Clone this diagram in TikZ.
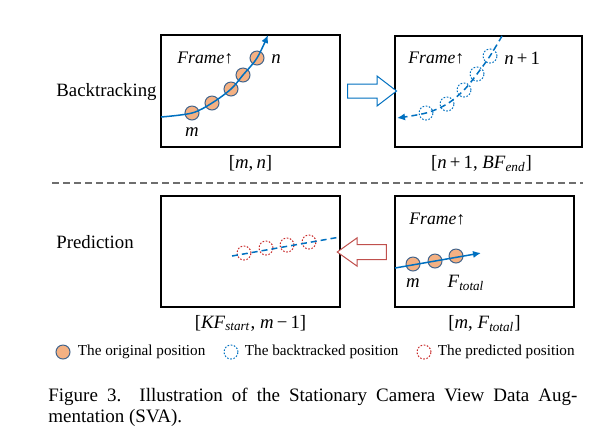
\documentclass[tikz,border=0pt]{standalone}
\usepackage{fontspec}
\setmainfont{Liberation Serif}
\usepackage{xcolor}
\usepackage{tikz}
\usetikzlibrary{positioning,shapes.arrows,arrows.meta}
\definecolor{TrackBlue}{RGB}{0, 112, 192}
\definecolor{OrigFill}{RGB}{244, 177, 131}
\definecolor{OrigEdge}{RGB}{65, 100, 140}
\definecolor{PredRed}{RGB}{200, 40, 40}
\definecolor{ArrowRed}{RGB}{192, 80, 77}
\definecolor{SepGray}{RGB}{110, 110, 110}

\tikzset{
  viewbox/.style={draw=black, line width=0.75pt, inner sep=0pt, minimum width=89.5pt, minimum height=55.5pt},
  origpos/.style={circle, draw=OrigEdge, line width=0.5pt, fill=OrigFill, minimum size=7pt, inner sep=0pt},
  backpos/.style={circle, draw=TrackBlue, line width=0.5pt, dash pattern=on 0.8pt off 0.8pt, minimum size=7pt, inner sep=0pt},
  predpos/.style={circle, draw=PredRed, line width=0.5pt, dash pattern=on 0.8pt off 0.8pt, minimum size=7pt, inner sep=0pt},
  track/.style={draw=TrackBlue, line width=0.75pt},
  trackdash/.style={track, dash pattern=on 3pt off 2pt},
  tracktip/.style={-{Latex[length=4pt, width=3.6pt]}},
  lbl/.style={font=\fontsize{9.4}{11}\selectfont, inner sep=1pt},
  rowlbl/.style={lbl, anchor=west, inner sep=0pt},
  framelbl/.style={font=\fontsize{8.8}{10}\selectfont\itshape, anchor=west, inner sep=0pt},
  legendtxt/.style={font=\fontsize{7.6}{9}\selectfont, inner sep=0pt},
  blockarrow/.style={single arrow, line width=0.5pt, fill=white, inner sep=0pt, text depth=0pt, minimum height=24.5pt},
  sepline/.style={draw=SepGray, line width=1pt, dash pattern=on 3.5pt off 2pt},
  caption/.style={font=\fontsize{9.5}{10.5}\selectfont, anchor=north west, inner sep=0pt, text width=264.5pt, align=justify}
}

\begin{document}
\begin{tikzpicture}[x=0.5pt, y=-0.5pt]
  \useasboundingbox (0,0) rectangle (608,441);

  % rows
  \node[rowlbl] (rowback) at (56,92) {Backtracking};
  \node[rowlbl] (rowpred) at (56,242) {Prediction};

  % frames
  \node[viewbox, minimum height=56pt] (trackbox) at (250.5,91) {};
  \node[viewbox, minimum width=93.5pt] (backbox) at (488.5,91.5) {};
  \node[viewbox] (predbox) at (250.5,251.5) {};
  \node[viewbox] (basebox) at (484.5,251.5) {};

  % frame ranges
  \node[lbl, below=2.5pt of trackbox] (rngtrack) {[\textit{m},\,\textit{n}]};
  \node[lbl, below=2.5pt of backbox, xshift=-3.5pt] (rngback) {[\textit{n}\,+\,1, \textit{BF}\textsubscript{\textit{end}}]};
  \node[lbl, below=2.5pt of predbox] (rngpred) {[\textit{KF}\textsubscript{\textit{start}}, \textit{m}\,−\,1]};
  \node[lbl, below=2.5pt of basebox] (rngbase) {[\textit{m}, \textit{F}\textsubscript{\textit{total}}]};

  % original track
  \node[framelbl] (frtrack) at (177,58) {Frame\upshape↑};
  \foreach \p [count=\i] in {(192,113),(212,103),(231,89),(243,75),(257,58)}
    \node[origpos] (o\i) at \p {};
  \coordinate (otail) at (161,117);
  \coordinate (ohead) at (268,35);
  \draw[track, tracktip] plot[smooth, tension=0.55] coordinates {(otail) (o1) (o2) (o3) (o4) (o5) (ohead)};
  \node[lbl, font=\fontsize{9.4}{11}\selectfont\itshape] (om) at (192,132) {m};
  \node[lbl, font=\fontsize{9.4}{11}\selectfont\itshape] (on) at (276,59) {n};

  % backtracked track
  \node[framelbl] (frback) at (408,58) {Frame\upshape↑};
  \foreach \p [count=\i] in {(426,113),(447,104),(464,90),(477,74),(490,56)}
    \node[backpos] (b\i) at \p {};
  \coordinate (btail) at (502,36);
  \coordinate (bhead) at (397,118);
  \draw[trackdash, tracktip] plot[smooth, tension=0.55] coordinates {(btail) (b5) (b4) (b3) (b2) (b1) (bhead)};
  \node[lbl, anchor=west] (bn) at (502,58) {\textit{n}\,+\,1};

  % predicted track
  \foreach \p [count=\i] in {(244,253),(266,248),(287,245),(309,242)}
    \node[predpos] (p\i) at \p {};
  \coordinate (ptail) at (232,256);
  \coordinate (phead) at (340,237);
  \draw[trackdash] (ptail) -- (phead);

  % source track
  \node[framelbl] (frbase) at (409,219) {Frame\upshape↑};
  \foreach \p [count=\i] in {(413,264),(435,261),(456,256)}
    \node[origpos] (s\i) at \p {};
  \coordinate (stail) at (395,268);
  \coordinate (shead) at (481,253);
  \draw[track, tracktip] (stail) -- (shead);
  \node[lbl, font=\fontsize{9.4}{11}\selectfont\itshape] (sm) at (413,283) {m};
  \node[lbl] (sf) at (466,283) {\textit{F}\textsubscript{\textit{total}}};

  % block arrows
  \node[blockarrow, draw=TrackBlue, text height=6.5pt, single arrow head extend=4pt, single arrow tip angle=75] (toback) at (367.5,91) {};
  \node[blockarrow, draw=ArrowRed, text height=7pt, single arrow head extend=3.3pt, single arrow tip angle=71, shape border rotate=180] (topred) at (367,252) {};

  % separator
  \draw[sepline] (52,183) -- (583,183);

  % legend
  \node[origpos] (keyorig) at (63,352) {};
  \node[legendtxt, right=3.5pt of keyorig] (txtorig) {The original position};
  \node[backpos] (keyback) at (231,352) {};
  \node[legendtxt, right=3pt of keyback] (txtback) {The backtracked position};
  \node[predpos] (keypred) at (424,352) {};
  \node[legendtxt, right=3pt of keypred] (txtpred) {The predicted position};

  % caption
  \node[caption] (cap) at (48,388) {Figure 3.\ \ Illustration of the Stationary Camera View Data Aug-\linebreak mentation (SVA).};
\end{tikzpicture}
\end{document}
